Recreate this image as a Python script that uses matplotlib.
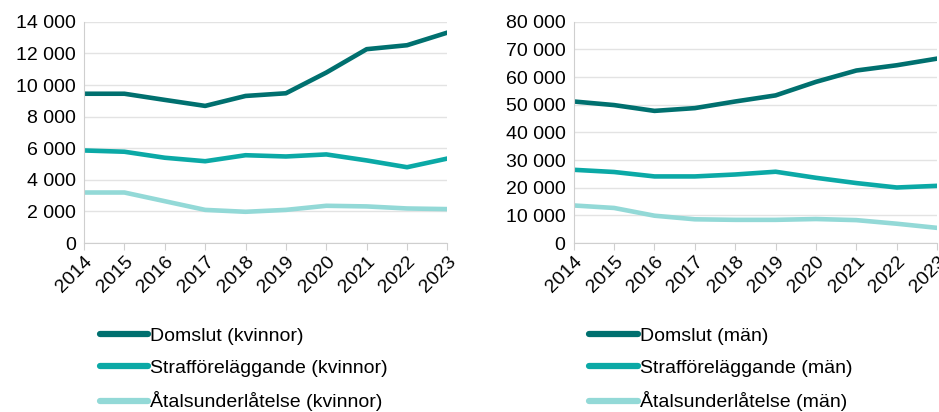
import numpy as np
import matplotlib
matplotlib.use('Agg')
import matplotlib.pyplot as plt
from matplotlib.ticker import FuncFormatter

plt.rcParams['font.family'] = ['Liberation Sans', 'DejaVu Sans']

years = [2014, 2015, 2016, 2017, 2018, 2019, 2020, 2021, 2022, 2023]

# kvinnor
domslut_k = [9450, 9450, 9060, 8680, 9310, 9480, 10790, 12270, 12520, 13320]
straff_k = [5860, 5780, 5400, 5180, 5560, 5480, 5610, 5230, 4800, 5350]
atal_k = [3200, 3200, 2650, 2100, 1980, 2100, 2360, 2320, 2190, 2150]

# män
domslut_m = [51200, 49900, 47800, 48800, 51200, 53400, 58300, 62400, 64300, 66700]
straff_m = [26500, 25700, 24100, 24100, 24800, 25800, 23600, 21700, 20100, 20700]
atal_m = [13600, 12700, 9900, 8600, 8400, 8400, 8700, 8300, 7000, 5500]

colors = ['#00706F', '#0BA9A6', '#93D9D7']


def thousands(v, pos):
    return '{:,.0f}'.format(v).replace(',', ' ')


def draw_panel(ax, series, labels, ymax, ystep):
    x = np.arange(len(years))
    for vals, col, lab in zip(series, colors, labels):
        ax.plot(x, vals, color=col, lw=3.3, label=lab, solid_capstyle='round')
    ax.set_xlim(0, len(years) - 1)
    ax.set_ylim(0, ymax)
    ax.set_yticks(np.arange(0, ymax + 1, ystep))
    ax.yaxis.set_major_formatter(FuncFormatter(thousands))
    ax.set_xticks(x)
    ax.set_xticklabels([str(y) for y in years], rotation=45,
                       ha='right', rotation_mode='anchor')
    ax.grid(axis='y', color='#E3E3E3', lw=1)
    ax.set_axisbelow(True)
    for s in ['top', 'right']:
        ax.spines[s].set_visible(False)
    ax.spines['left'].set_color('#CFCFCF')
    ax.spines['bottom'].set_color('#CFCFCF')
    ax.tick_params(axis='y', length=0, labelsize=14, pad=6)
    ax.tick_params(axis='x', length=5, color='#CFCFCF', labelsize=14, pad=2)
    leg = ax.legend(loc='upper left', bbox_to_anchor=(-0.005, -0.30),
                    frameon=False, fontsize=14, handlelength=2.5,
                    handletextpad=0.1, labelspacing=0.75)
    for h in leg.get_lines():
        h.set_linewidth(4.5)


fig = plt.figure(figsize=(9.39, 4.12), dpi=100)
ax1 = fig.add_axes([0.0895, 0.41, 0.387, 0.537])
ax2 = fig.add_axes([0.611, 0.41, 0.387, 0.537])

draw_panel(ax1, [domslut_k, straff_k, atal_k],
           ['Domslut (kvinnor)', 'Strafföreläggande (kvinnor)',
            'Åtalsunderlåtelse (kvinnor)'], 14000, 2000)
draw_panel(ax2, [domslut_m, straff_m, atal_m],
           ['Domslut (män)', 'Strafföreläggande (män)',
            'Åtalsunderlåtelse (män)'], 80000, 10000)

fig.savefig('out.png', dpi=100)
